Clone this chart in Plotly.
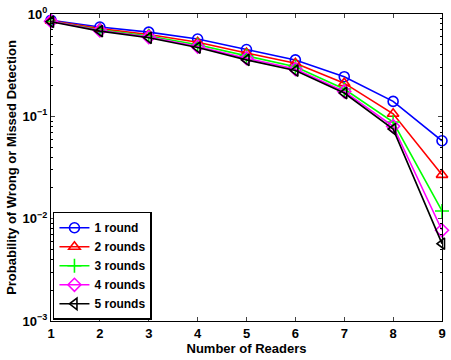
import plotly.graph_objects as go

readers = [1, 2, 3, 4, 5, 6, 7, 8, 9]
r1 = [0.87, 0.745, 0.665, 0.57, 0.45, 0.356, 0.244, 0.140, 0.0577]
r2 = [0.86, 0.720, 0.630, 0.53, 0.415, 0.330, 0.211, 0.106, 0.0268]
r3 = [0.85, 0.700, 0.610, 0.50, 0.390, 0.305, 0.185, 0.088, 0.0119]
r4 = [0.85, 0.690, 0.595, 0.48, 0.370, 0.290, 0.175, 0.080, 0.0077]
r5 = [0.84, 0.680, 0.585, 0.47, 0.356, 0.280, 0.169, 0.075, 0.0057]
names = ["1 round", "2 rounds", "3 rounds", "4 rounds", "5 rounds"]
series = [r1, r2, r3, r4, r5]
colors = ["#0000ff", "#ff0000", "#00ff00", "#ff00ff", "#000000"]
symbols = ["circle-open", "triangle-up-open", "cross-thin-open", "diamond-open", "triangle-left-open"]

ytick_vals = [0.001, 0.01, 0.1, 1]
ytick_text = ["10<sup>−3</sup>", "10<sup>−2</sup>", "10<sup>−1</sup>", "10<sup>0</sup>"]
minor_vals = [m * 10 ** e for e in (-3, -2, -1) for m in range(2, 10)]

fig = go.Figure()
for name, ys, c, s in zip(names, series, colors, symbols):
    fig.add_trace(go.Scatter(
        x=readers, y=ys, name=name, mode="lines+markers",
        line=dict(color=c, width=1.6),
        marker=dict(symbol=s, size=10, color=c, line=dict(color=c, width=1.6)),
        cliponaxis=False,
    ))

fam = "Liberation Sans, Arial, sans-serif"
font = dict(family=fam, size=13, color="black", weight="bold")
fig.update_layout(
    width=451, height=360,
    margin=dict(l=51, r=5, t=11, b=39),
    paper_bgcolor="white", plot_bgcolor="white",
    font=font,
    showlegend=True,
    legend=dict(
        x=0.005, y=0.004, xanchor="left", yanchor="bottom",
        bgcolor="white", bordercolor="black", borderwidth=1.5,
        font=dict(family=fam, size=12, color="black", weight="bold"),
        tracegroupgap=0, itemwidth=30,
    ),
    xaxis=dict(
        range=[1, 9], tickvals=readers, ticks="inside", ticklen=4,
        showline=True, linecolor="black", linewidth=1, mirror="ticks",
        showgrid=False, zeroline=False,
        title=dict(text="Number of Readers", standoff=1, font=font),
        tickfont=font,
    ),
    yaxis=dict(
        type="log", range=[-3, 0], tickvals=ytick_vals, ticktext=ytick_text,
        ticks="inside", ticklen=4,
        minor=dict(tickvals=minor_vals, ticks="inside", ticklen=2, tickcolor="black"),
        showline=True, linecolor="black", linewidth=1, mirror="ticks",
        showgrid=False, zeroline=False,
        title=dict(text="Probability of Wrong or Missed Detection", standoff=3, font=font),
        tickfont=font,
    ),
)

fig.write_html("out.html")
